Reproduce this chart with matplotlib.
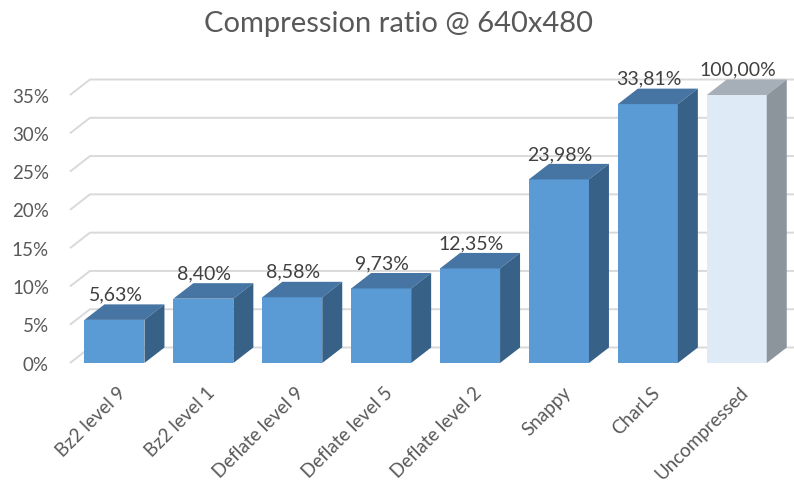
import matplotlib
matplotlib.use("Agg")
import matplotlib.pyplot as plt
from matplotlib.patches import Polygon
import matplotlib.transforms as mtransforms

categories = ["Bz2 level 9", "Bz2 level 1", "Deflate level 9", "Deflate level 5",
              "Deflate level 2", "Snappy", "CharLS", "Uncompressed"]
values = [5.63, 8.40, 8.58, 9.73, 12.35, 23.98, 33.81, 100.00]
value_labels = ["5,63%", "8,40%", "8,58%", "9,73%", "12,35%", "23,98%", "33,81%", "100,00%"]
y_ticks = [0, 5, 10, 15, 20, 25, 30, 35]
y_tick_labels = ["0%", "5%", "10%", "15%", "20%", "25%", "30%", "35%"]
y_max = 35
title = "Compression ratio @ 640x480"

FONT = ["Lato", "DejaVu Sans"]
plt.rcParams['font.family'] = FONT

front_c = ["#5B9BD5"] * 7 + ["#DEEBF7"]
top_c = ["#4674A3"] * 7 + ["#A6AFB8"]
side_c = ["#386187"] * 7 + ["#8C949C"]

fig = plt.figure(figsize=(7.94, 4.86), dpi=100)
ax = fig.add_axes([0, 0, 1, 1])
# pixel mapping: category -0.5 at x=70px, 88.9 px per category; 0% at y=363px (from top), 7.657 px per %
ppx = 88.9
ppy = 7.657
ax.set_xlim(-0.5 - 70 / ppx, -0.5 + 724 / ppx)
ax.set_ylim(-(486 - 363) / ppy, 363 / ppy)
ax.axis('off')

dx = 20 / ppx
dy = 15.5 / ppy
w = 60 / ppx
xmax = ax.get_xlim()[1]

# gridlines (floor/back wall)
for v in y_ticks:
    ax.plot([-0.5, -0.5 + dx, xmax], [v, v + dy, v + dy], color="#D9D9D9", lw=1.4,
            zorder=1, solid_capstyle='butt')

# y tick labels
off_y = mtransforms.offset_copy(ax.transData, fig=fig, x=-21, y=-2, units='dots')
for v, lab in zip(y_ticks, y_tick_labels):
    ax.text(-0.5, v, lab, transform=off_y, ha='right', va='center',
            fontsize=13.5, color="#595959")

# bars
for i, (v, lab) in enumerate(zip(values, value_labels)):
    h = min(v, y_max)
    ax.bar(i, h, width=w, color=front_c[i], edgecolor="none", zorder=3)
    top = Polygon([(i - w / 2, h), (i + w / 2, h), (i + w / 2 + dx, h + dy), (i - w / 2 + dx, h + dy)],
                  closed=True, facecolor=top_c[i], edgecolor="none", zorder=3)
    side = Polygon([(i + w / 2, 0), (i + w / 2 + dx, dy), (i + w / 2 + dx, h + dy), (i + w / 2, h)],
                   closed=True, facecolor=side_c[i], edgecolor="none", zorder=3)
    ax.add_patch(top)
    ax.add_patch(side)
    off_l = mtransforms.offset_copy(ax.transData, fig=fig, x=1, y=1, units='dots')
    ax.text(i, h + dy, lab, transform=off_l, ha='center', va='bottom',
            fontsize=14, color="#404040", zorder=5)

# category labels
off_c = mtransforms.offset_copy(ax.transData, fig=fig, x=3, y=-21, units='dots')
for i, c in enumerate(categories):
    ax.text(i, 0, c, transform=off_c, rotation=45, rotation_mode='anchor',
            ha='right', va='top', fontsize=13.5, color="#595959")

fig.text(398 / 794, 1 - 24 / 486, title, ha='center', va='center', fontsize=21, color="#595959")

fig.savefig("out.png", dpi=100)
